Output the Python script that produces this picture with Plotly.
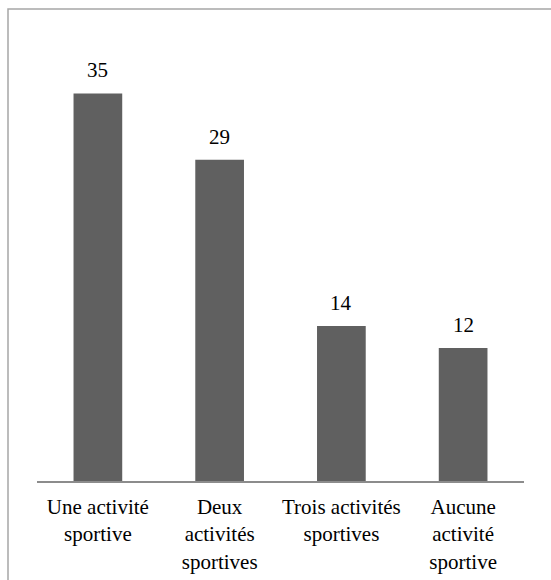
import plotly.graph_objects as go

categories = ["Une activité<br>sportive", "Deux<br>activités<br>sportives",
              "Trois activités<br>sportives", "Aucune<br>activité<br>sportive"]
values = [35, 29, 14, 12]

W, H = 551, 580
L, R, T, B = 37, 27, 38, 99
pw, ph = W - L - R, H - T - B
FONT = "Liberation Serif, Times New Roman, serif"

fig = go.Figure()
fig.add_trace(go.Bar(x=categories, y=values, marker=dict(color="#606060", line=dict(width=0)),
                     width=0.4, hoverinfo="skip"))

for c, v in zip(categories, values):
    fig.add_annotation(x=c, y=v, text=str(v), showarrow=False, yanchor="middle", yshift=23,
                       font=dict(family=FONT, size=21, color="black"))

# outer chart border (cropped by the image on right/bottom)
fig.add_shape(type="rect", xref="paper", yref="paper",
              x0=(8 - L) / pw, x1=(W + 10 - L) / pw,
              y0=(H - B - (H + 10)) / ph, y1=(H - B - 9) / ph,
              line=dict(color="#A6A6A6", width=1.5), fillcolor="rgba(0,0,0,0)", layer="below")

fig.update_layout(
    width=W, height=H,
    margin=dict(l=L, r=R, t=T, b=B),
    plot_bgcolor="white", paper_bgcolor="white",
    showlegend=False,
    font=dict(family=FONT, size=21, color="black"),
)
fig.update_xaxes(showline=True, linecolor="#8C8C8C", linewidth=1.5, ticks="", showgrid=False,
                 ticklabelstandoff=6, automargin=False,
                 tickfont=dict(family=FONT, size=21, color="black"))
fig.update_yaxes(range=[0, 40], visible=False, showgrid=False, automargin=False)

fig.write_html("out.html", config={"displayModeBar": False},
               post_script="document.body.style.margin='0';document.body.style.overflow='hidden';")
